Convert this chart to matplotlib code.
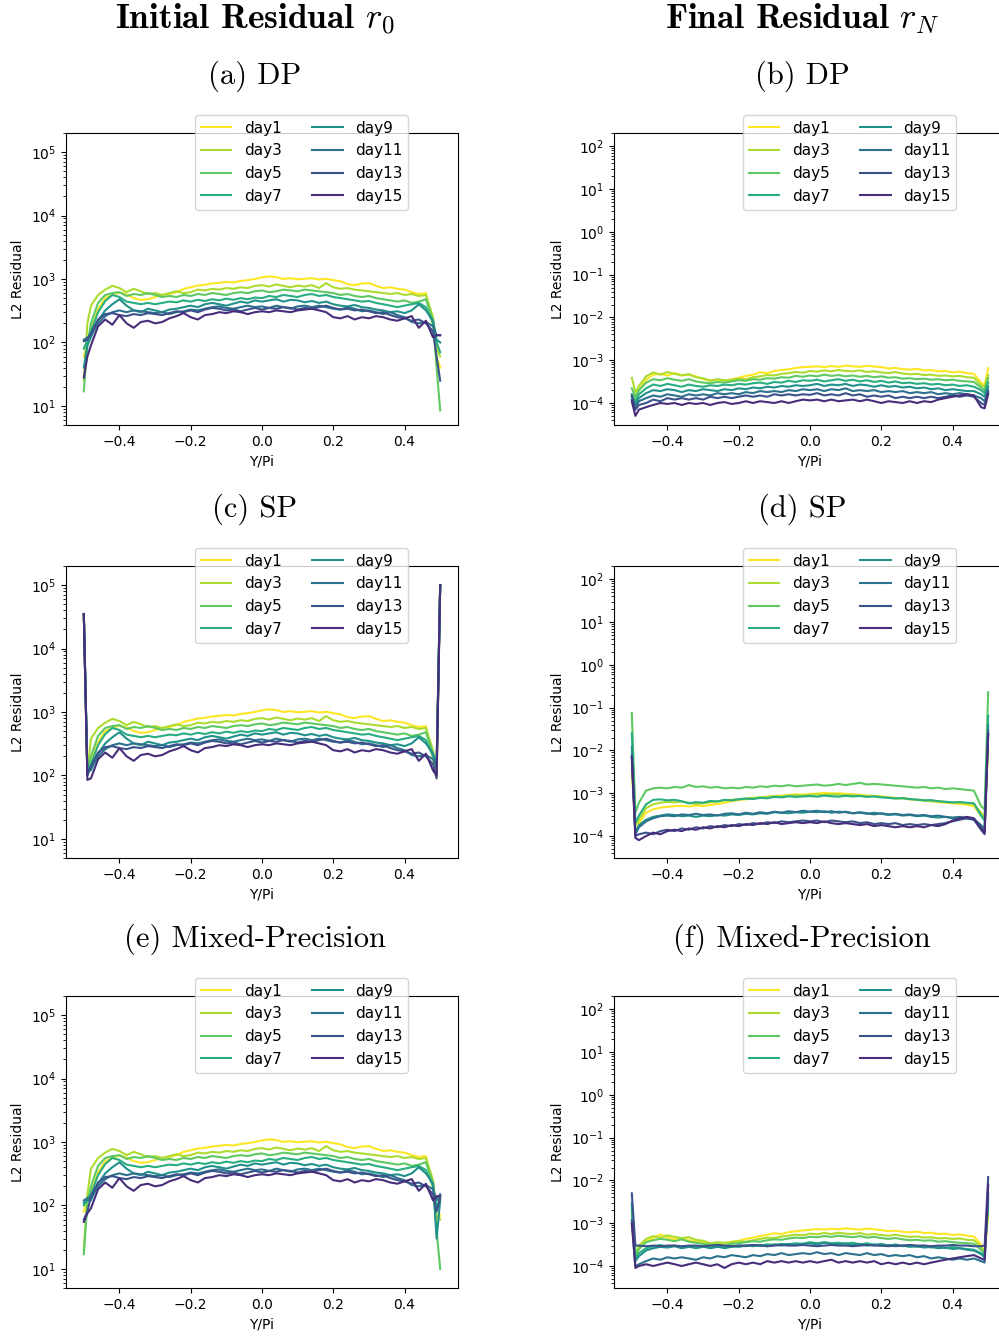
import numpy as np
import matplotlib.pyplot as plt

days = ['day1', 'day3', 'day5', 'day7', 'day9', 'day11', 'day13', 'day15']
colors = [plt.cm.viridis(v) for v in [1.0, 0.875, 0.75, 0.625, 0.5, 0.375, 0.25, 0.125]]

y_pi = [-0.5, -0.49,
        -0.48, -0.46, -0.44, -0.42, -0.4, -0.38, -0.36, -0.34, -0.32, -0.3,
        -0.28, -0.26, -0.24, -0.22, -0.2, -0.18, -0.16, -0.14, -0.12, -0.1,
        -0.08, -0.06, -0.04, -0.02, 0.0, 0.02, 0.04, 0.06, 0.08, 0.1,
        0.12, 0.14, 0.16, 0.18, 0.2, 0.22, 0.24, 0.26, 0.28, 0.3,
        0.32, 0.34, 0.36, 0.38, 0.4, 0.42, 0.44, 0.46, 0.48,
        0.49, 0.5]

r0_ticks = [1e1, 1e2, 1e3, 1e4, 1e5]
rn_ticks = [1e-4, 1e-3, 1e-2, 1e-1, 1e0, 1e1, 1e2]

# initial residual r0, inner part (-0.48 .. 0.48) is the same for DP / SP / MP
r0_day1 = [160, 330, 500, 560, 610, 570, 500, 470, 480, 520,
           560, 580, 620, 700, 740, 790, 810, 850, 870, 900,
           880, 930, 960, 1000, 1060, 1100, 1070, 1000, 1030, 990,
           1010, 1030, 980, 1010, 960, 920, 830, 800, 850, 860,
           780, 720, 740, 700, 680, 620, 580, 600, 180]
r0_day3 = [380, 560, 680, 780, 720, 620, 700, 640, 580, 600,
           560, 600, 640, 600, 620, 680, 660, 700, 680, 720,
           700, 740, 720, 780, 800, 760, 820, 780, 740, 790,
           760, 800, 720, 860, 740, 700, 720, 680, 660, 640,
           620, 600, 580, 600, 560, 580, 540, 560, 250]
r0_day5 = [200, 420, 560, 600, 620, 540, 580, 560, 600, 560,
           520, 540, 520, 560, 540, 580, 560, 600, 580, 560,
           600, 620, 600, 640, 660, 620, 640, 680, 660, 640,
           680, 660, 640, 620, 600, 560, 580, 540, 520, 540,
           500, 480, 460, 440, 460, 420, 440, 480, 220]
r0_day7 = [150, 300, 450, 560, 520, 440, 420, 400, 420, 400,
           420, 440, 430, 460, 440, 470, 450, 480, 460, 490,
           470, 500, 480, 510, 500, 540, 520, 560, 540, 520,
           560, 580, 540, 560, 520, 500, 480, 460, 440, 450,
           420, 400, 380, 360, 380, 400, 420, 360, 200]
r0_day9 = [120, 220, 320, 400, 480, 380, 320, 300, 340, 320,
           300, 330, 340, 360, 380, 360, 400, 420, 400, 380,
           410, 440, 420, 460, 440, 460, 480, 440, 470, 460,
           430, 450, 420, 440, 400, 380, 370, 390, 360, 350,
           330, 320, 300, 310, 290, 320, 400, 320, 220]
r0_day11 = [130, 200, 260, 300, 320, 300, 320, 310, 300, 290,
            300, 280, 300, 310, 330, 320, 340, 360, 370, 350,
            340, 360, 380, 360, 370, 350, 380, 360, 340, 370,
            380, 360, 380, 360, 340, 330, 360, 340, 310, 320,
            300, 280, 300, 270, 250, 210, 200, 210, 180]
r0_day13 = [140, 230, 280, 290, 270, 260, 280, 270, 290, 280,
            270, 290, 310, 300, 320, 300, 330, 350, 340, 320,
            330, 310, 330, 350, 330, 350, 340, 360, 350, 330,
            350, 340, 360, 380, 350, 330, 340, 320, 330, 310,
            290, 300, 270, 250, 240, 220, 230, 200, 150]
r0_day15 = [90, 180, 230, 190, 270, 200, 170, 210, 220, 200,
            210, 240, 260, 290, 250, 230, 270, 280, 300, 290,
            310, 300, 280, 300, 310, 300, 320, 310, 300, 320,
            330, 340, 320, 300, 250, 240, 260, 230, 250, 240,
            260, 250, 230, 220, 240, 260, 170, 220, 120]
r0_mid = [r0_day1, r0_day3, r0_day5, r0_day7, r0_day9, r0_day11, r0_day13, r0_day15]

# r0 boundary values: (Y/Pi=-0.5, -0.49) and (0.49, 0.5), one pair per day
r0_dp_left = [[60, 100], [25, 200], [17, 90], [80, 110], [40, 90], [110, 120], [105, 110], [28, 60]]
r0_dp_right = [[60, 40], [80, 60], [40, 8.5], [100, 70], [110, 100], [130, 130], [60, 25], [130, 130]]
r0_sp_left = [[3.5e4, 100], [3.5e4, 110], [3.5e4, 105], [3.5e4, 100], [3.5e4, 120], [3.5e4, 110], [3.5e4, 100], [3.5e4, 85]]
r0_sp_right = [[90, 1e5], [120, 1e5], [150, 1e5], [160, 1e5], [140, 1e5], [130, 1e5], [90, 1e5], [100, 1e5]]
r0_mp_left = [[80, 120], [20, 150], [17, 110], [100, 130], [110, 120], [120, 130], [60, 80], [55, 75]]
r0_mp_right = [[50, 70], [70, 60], [40, 10], [90, 140], [30, 120], [120, 150], [80, 130], [140, 140]]

# final residual rN, in units of 1e-4
RN_UNIT = 1e-4
rn_dp = [
    [1.0, 1.3,
     2.0, 3.5, 4.6, 4.8, 4.4, 5.0, 4.5, 4.6, 4.2, 3.6,
     3.4, 3.5, 3.3, 3.6, 3.9, 4.3, 4.6, 5.2, 5.0, 5.6,
     5.9, 6.1, 6.6, 6.9, 7.0, 7.2, 6.9, 7.3, 7.0, 7.5,
     7.2, 7.0, 7.4, 7.1, 6.9, 6.4, 6.6, 6.2, 6.0, 6.3,
     5.8, 5.9, 5.5, 5.6, 5.2, 5.4, 5.0, 4.8, 3.0,
     2.6, 6.5],
    [3.9, 1.8,
     2.5, 4.2, 5.2, 4.6, 5.3, 4.8, 4.4, 4.7, 4.0, 3.8,
     3.3, 3.6, 3.4, 3.5, 3.7, 3.6, 4.0, 4.2, 4.5, 4.4,
     4.8, 5.0, 5.3, 5.1, 5.6, 5.4, 5.8, 5.5, 5.9, 5.6,
     5.5, 5.8, 5.3, 5.5, 5.2, 5.0, 5.3, 4.9, 4.7, 4.8,
     4.5, 4.6, 4.3, 4.4, 4.2, 4.3, 4.0, 3.9, 2.6,
     2.4, 4.5],
    [2.2, 1.4,
     2.0, 3.0, 3.6, 3.4, 3.8, 3.5, 3.3, 3.6, 3.2, 3.0,
     2.9, 3.1, 3.0, 3.2, 3.4, 3.3, 3.6, 3.5, 3.8, 3.7,
     4.0, 3.9, 4.3, 4.1, 4.4, 4.2, 4.6, 4.3, 4.5, 4.2,
     4.4, 4.1, 4.3, 4.0, 4.2, 3.9, 4.0, 3.7, 3.8, 3.6,
     3.7, 3.5, 3.6, 3.4, 3.5, 3.3, 3.2, 3.1, 2.3,
     2.0, 3.8],
    [1.6, 1.1,
     1.6, 2.2, 2.7, 2.5, 2.8, 2.6, 2.4, 2.7, 2.5, 2.4,
     2.6, 2.5, 2.7, 2.6, 2.8, 2.7, 2.9, 3.0, 2.8, 3.1,
     3.0, 3.3, 3.1, 3.4, 3.3, 3.5, 3.2, 3.4, 3.6, 3.3,
     3.5, 3.2, 3.4, 3.1, 3.3, 3.0, 3.2, 2.9, 3.0, 2.8,
     2.9, 2.7, 2.8, 2.6, 2.7, 2.5, 2.6, 2.4, 2.0,
     1.7, 3.0],
    [1.4, 0.9,
     1.3, 1.7, 2.0, 1.9, 2.1, 2.0, 1.8, 2.0, 1.9, 2.1,
     2.0, 1.9, 2.1, 2.0, 2.2, 2.1, 2.3, 2.2, 2.4, 2.3,
     2.5, 2.4, 2.6, 2.5, 2.6, 2.8, 2.5, 2.7, 2.6, 2.8,
     2.5, 2.7, 2.6, 2.4, 2.6, 2.4, 2.5, 2.3, 2.4, 2.2,
     2.3, 2.1, 2.2, 2.0, 2.1, 2.0, 1.9, 1.9, 1.6,
     1.4, 2.4],
    [1.2, 0.8,
     1.1, 1.3, 1.5, 1.4, 1.6, 1.5, 1.4, 1.6, 1.5, 1.6,
     1.5, 1.7, 1.6, 1.7, 1.6, 1.8, 1.7, 1.9, 1.8, 1.9,
     1.8, 2.0, 1.9, 2.1, 2.0, 2.1, 1.9, 2.1, 2.0, 2.2,
     1.9, 2.0, 1.9, 2.0, 1.8, 1.9, 1.8, 1.9, 1.7, 1.8,
     1.7, 1.8, 1.6, 1.7, 1.6, 1.7, 1.6, 1.5, 1.3,
     1.1, 2.0],
    [1.5, 0.7,
     0.9, 1.0, 1.2, 1.1, 1.3, 1.2, 1.3, 1.2, 1.3, 1.2,
     1.4, 1.3, 1.4, 1.3, 1.4, 1.5, 1.4, 1.5, 1.4, 1.6,
     1.5, 1.6, 1.5, 1.6, 1.55, 1.7, 1.5, 1.6, 1.5, 1.7,
     1.5, 1.6, 1.4, 1.5, 1.4, 1.5, 1.3, 1.4, 1.3, 1.4,
     1.3, 1.4, 1.3, 1.4, 1.5, 1.4, 1.5, 1.4, 1.0,
     0.9, 1.8],
    [1.1, 0.5,
     0.7, 0.8, 0.9, 1.0, 0.95, 1.0, 0.9, 1.0, 0.95, 1.0,
     0.9, 1.0, 1.05, 0.95, 1.0, 1.1, 1.0, 1.1, 1.05, 1.0,
     1.1, 1.0, 1.1, 1.2, 1.15, 1.2, 1.1, 1.2, 1.1, 1.15,
     1.2, 1.1, 1.2, 1.1, 1.0, 1.1, 1.05, 1.0, 1.1, 1.0,
     1.1, 1.05, 1.2, 1.3, 1.4, 1.5, 1.6, 1.5, 0.8,
     0.75, 1.6],
]
rn_sp = [
    [30, 1.8,
     2.0, 3.5, 4.2, 4.6, 4.8, 5.0, 5.1, 4.9, 5.2, 5.0,
     5.3, 5.6, 6.0, 6.5, 6.9, 7.2, 7.6, 7.9, 8.3, 8.6,
     8.8, 9.1, 9.4, 9.3, 9.6, 9.8, 10.2, 9.9, 10.0, 9.7,
     9.4, 9.2, 8.9, 8.6, 8.4, 8.0, 7.6, 7.8, 7.3, 7.1,
     6.7, 6.5, 6.2, 6.0, 5.8, 5.6, 5.4, 5.0, 3.0,
     2.5, 100],
    [50, 1.8,
     2.4, 4.5, 5.5, 6.0, 6.3, 6.1, 6.4, 6.0, 5.6, 5.8,
     6.1, 6.5, 6.8, 7.0, 7.3, 7.5, 7.8, 8.0, 8.2, 8.5,
     8.4, 8.8, 9.0, 8.9, 9.2, 9.4, 9.1, 9.5, 9.3, 9.0,
     9.2, 8.8, 8.5, 8.7, 8.3, 8.0, 7.8, 7.5, 7.2, 7.0,
     6.8, 6.5, 6.6, 6.2, 6.0, 6.1, 5.8, 5.6, 3.5,
     2.8, 200],
    [750, 3.5,
     6.0, 11.5, 13.0, 13.5, 13.0, 14.0, 13.5, 15.5, 14.0, 14.5,
     13.5, 14.0, 13.0, 13.5, 13.0, 14.0, 13.5, 14.5, 14.0, 15.0,
     14.5, 15.5, 14.5, 15.0, 15.5, 16.0, 15.0, 15.5, 16.5, 15.5,
     16.5, 17.5, 16.0, 16.5, 16.0, 15.5, 15.0, 14.5, 14.0, 13.5,
     14.0, 13.0, 13.5, 12.5, 13.0, 12.5, 12.0, 11.5, 5.0,
     4.2, 2300],
    [250, 2.0,
     3.0, 5.5, 7.0, 7.2, 6.8, 7.0, 6.5, 5.8, 6.2, 6.0,
     6.6, 6.4, 7.0, 6.8, 7.2, 7.5, 7.3, 7.8, 7.6, 8.2,
     8.0, 8.5, 8.2, 8.4, 8.6, 8.3, 8.8, 8.5, 8.3, 8.7,
     8.4, 8.6, 8.2, 8.4, 8.0, 7.8, 7.5, 7.7, 7.3, 7.1,
     6.8, 6.9, 6.5, 6.3, 6.1, 6.2, 6.0, 5.8, 3.0,
     2.3, 650],
    [120, 1.2,
     1.8, 2.4, 2.8, 3.0, 3.2, 3.1, 2.9, 3.0, 2.8, 3.0,
     2.9, 3.1, 3.0, 3.2, 3.1, 3.3, 3.2, 3.4, 3.3, 3.6,
     3.5, 3.4, 3.6, 3.5, 3.7, 3.6, 3.8, 3.5, 3.7, 3.6,
     3.4, 3.5, 3.3, 3.5, 3.3, 3.1, 3.2, 3.0, 3.1, 2.9,
     3.0, 2.8, 2.7, 2.8, 2.6, 2.5, 2.6, 2.4, 1.7,
     1.5, 400],
    [80, 1.1,
     1.6, 2.2, 2.6, 2.9, 3.0, 2.9, 3.2, 3.1, 3.3, 3.1,
     3.2, 3.0, 3.3, 3.4, 3.2, 3.5, 3.3, 3.6, 3.4, 3.7,
     3.5, 3.8, 3.6, 3.9, 3.7, 3.9, 3.6, 3.8, 3.5, 3.7,
     3.4, 3.6, 3.4, 3.2, 3.4, 3.2, 3.3, 3.1, 3.2, 3.0,
     3.1, 2.9, 3.0, 2.8, 2.7, 2.8, 2.6, 2.5, 1.8,
     1.4, 300],
    [70, 1.0,
     1.1, 1.2, 1.1, 1.3, 1.4, 1.3, 1.5, 1.4, 1.6, 1.5,
     1.7, 1.6, 1.8, 1.7, 1.9, 1.8, 2.0, 1.9, 2.1, 2.0,
     2.2, 2.1, 2.2, 2.3, 2.2, 2.3, 2.1, 2.3, 2.2, 2.1,
     2.2, 2.0, 2.1, 1.9, 2.0, 1.9, 2.0, 1.8, 1.9, 1.8,
     1.9, 1.8, 1.9, 2.0, 2.2, 2.4, 2.6, 2.4, 1.4,
     1.1, 250],
    [70, 0.9,
     0.8, 1.0, 1.2, 1.1, 1.3, 1.4, 1.3, 1.5, 1.4, 1.6,
     1.5, 1.7, 1.6, 1.8, 1.7, 1.9, 1.8, 2.0, 1.9, 2.1,
     1.9, 2.0, 2.1, 2.0, 2.1, 2.0, 2.2, 2.0, 1.9, 2.0,
     1.9, 1.8, 1.9, 1.7, 1.8, 1.7, 1.6, 1.7, 1.6, 1.7,
     1.6, 1.8, 1.7, 1.9, 2.3, 2.6, 2.8, 2.6, 1.5,
     1.2, 240],
]
rn_mp = [
    [10, 1.6,
     2.5, 3.8, 4.5, 5.5, 4.6, 4.2, 4.4, 4.0, 3.8, 3.5,
     3.3, 3.5, 3.4, 3.7, 3.9, 4.3, 4.6, 5.0, 5.4, 5.8,
     5.6, 6.2, 6.5, 6.8, 7.0, 7.3, 7.1, 7.4, 7.2, 7.6,
     7.3, 7.1, 7.5, 7.2, 6.9, 6.5, 6.7, 6.3, 6.1, 6.4,
     5.9, 6.0, 5.6, 5.7, 5.3, 5.5, 5.1, 4.9, 3.2,
     2.0, 15],
    [15, 2.0,
     3.0, 4.3, 5.0, 4.6, 5.2, 4.8, 4.5, 4.7, 4.1, 3.9,
     3.4, 3.6, 3.5, 3.6, 3.8, 3.7, 4.0, 4.3, 4.6, 4.5,
     4.9, 5.1, 5.4, 5.2, 5.7, 5.5, 5.9, 5.6, 6.0, 5.7,
     5.6, 5.9, 5.4, 5.6, 5.3, 5.1, 5.4, 5.0, 4.8, 4.9,
     4.6, 4.7, 4.4, 4.5, 4.3, 4.4, 4.1, 4.0, 2.8,
     2.2, 20],
    [20, 1.8,
     2.5, 3.6, 4.0, 4.3, 4.1, 3.8, 4.2, 3.7, 3.5, 3.3,
     3.1, 3.2, 3.0, 3.3, 3.4, 3.6, 3.8, 3.7, 4.0, 4.2,
     4.1, 4.4, 4.6, 4.5, 4.8, 4.7, 5.0, 4.8, 5.1, 4.9,
     4.7, 5.0, 4.6, 4.8, 4.5, 4.3, 4.5, 4.2, 4.0, 4.1,
     3.9, 4.0, 3.7, 3.8, 3.6, 3.5, 3.4, 3.3, 2.4,
     2.0, 25],
    [25, 1.5,
     2.0, 2.6, 2.9, 3.1, 2.8, 3.0, 2.7, 2.9, 2.6, 2.8,
     2.7, 2.9, 2.6, 2.8, 3.0, 2.9, 3.1, 3.0, 3.2, 3.1,
     3.3, 3.2, 3.4, 3.3, 3.6, 3.4, 3.6, 3.4, 3.5, 3.3,
     3.5, 3.2, 3.4, 3.1, 3.3, 3.0, 3.2, 2.9, 3.1, 2.8,
     3.0, 2.7, 2.9, 2.6, 2.8, 2.6, 2.5, 2.4, 2.0,
     1.8, 30],
    [30, 1.3,
     1.7, 2.3, 2.6, 2.8, 2.7, 2.9, 2.6, 2.8, 2.7, 2.9,
     2.6, 2.8, 2.7, 2.9, 2.8, 3.0, 2.9, 3.1, 2.9, 3.2,
     3.0, 3.3, 3.1, 3.3, 3.4, 3.2, 3.5, 3.3, 3.2, 3.4,
     3.1, 3.3, 3.0, 3.2, 3.0, 3.1, 2.9, 3.0, 2.8, 2.9,
     2.7, 2.8, 2.6, 2.7, 2.5, 2.6, 2.4, 2.3, 1.9,
     1.6, 40],
    [12, 1.0,
     1.1, 1.3, 1.5, 1.4, 1.6, 1.5, 1.6, 1.5, 1.4, 1.6,
     1.5, 1.7, 1.6, 1.8, 1.7, 1.6, 1.8, 1.7, 1.9, 1.8,
     2.0, 1.8, 1.9, 2.0, 1.9, 2.1, 1.9, 2.0, 1.8, 2.0,
     1.9, 1.8, 2.0, 1.8, 1.9, 1.7, 1.8, 1.7, 1.8, 1.6,
     1.7, 1.5, 1.6, 1.5, 1.4, 1.5, 1.4, 1.5, 1.3,
     1.2, 50],
    [50, 3.0,
     3.0, 2.9, 3.0, 2.9, 3.0, 3.0, 2.9, 3.0, 3.0, 2.9,
     3.0, 3.1, 3.0, 2.9, 3.0, 3.0, 3.1, 3.0, 2.9, 3.0,
     3.1, 3.0, 3.0, 3.1, 3.0, 2.9, 3.0, 3.1, 3.0, 3.0,
     2.9, 3.0, 3.1, 3.0, 3.0, 2.9, 3.0, 3.0, 3.1, 3.0,
     3.0, 2.9, 3.0, 3.0, 3.1, 3.0, 3.0, 2.9, 2.9,
     3.0, 120],
    [10, 0.9,
     1.0, 1.1, 1.0, 1.1, 1.2, 1.1, 1.0, 1.1, 1.2, 1.1,
     1.0, 1.1, 0.9, 1.1, 1.2, 1.1, 1.2, 1.1, 1.3, 1.2,
     1.3, 1.2, 1.3, 1.2, 1.3, 1.2, 1.3, 1.4, 1.2, 1.3,
     1.2, 1.3, 1.2, 1.3, 1.1, 1.2, 1.1, 1.2, 1.1, 1.2,
     1.1, 1.2, 1.3, 1.4, 1.5, 1.6, 1.7, 1.8, 1.5,
     1.4, 80],
]

W, H = 999, 1336
fig = plt.figure(figsize=(W / 100, H / 100), dpi=100)

def make_ax(x0, top):
    return fig.add_axes([x0 / W, 1 - (top + 292) / H, 392 / W, 292 / H])

def draw(ax, series, ylim, ticks):
    for name, col, vals in zip(days, colors, series):
        ax.plot(y_pi, vals, color=col, lw=1.5, label=name)
    ax.set_yscale('log')
    ax.set_yticks(ticks)
    ax.set_ylim(*ylim)
    ax.set_xlabel('Y/Pi')
    ax.set_ylabel('L2 Residual')
    ax.legend(ncol=2, loc='upper left', bbox_to_anchor=(0.309, 1.089), fontsize=11)

rows = [
    ('(a) DP', '(b) DP', r0_dp_left, r0_dp_right, rn_dp),
    ('(c) SP', '(d) SP', r0_sp_left, r0_sp_right, rn_sp),
    ('(e) Mixed-Precision', '(f) Mixed-Precision', r0_mp_left, r0_mp_right, rn_mp),
]
tops = [133, 566, 996]

for (t_left, t_right, left, right, rn), top in zip(rows, tops):
    ax_l = make_ax(66, top)
    r0 = [l + m + r for l, m, r in zip(left, r0_mid, right)]
    draw(ax_l, r0, (5.0, 2.0e5), r0_ticks)
    ax_r = make_ax(614, top)
    draw(ax_r, [np.array(v) * RN_UNIT for v in rn], (3.06e-5, 2.05e2), rn_ticks)
    fig.text(255 / W, 1 - (top - 57) / H, t_left, ha='center', va='center',
             fontsize=22, fontfamily='cmr10')
    fig.text(802 / W, 1 - (top - 57) / H, t_right, ha='center', va='center',
             fontsize=22, fontfamily='cmr10')

fig.text(255 / W, 1 - 19 / H, r'Initial Residual $r_0$', ha='center', va='center',
         fontsize=25.4, fontfamily='cmb10', math_fontfamily='cm')
fig.text(802 / W, 1 - 19 / H, r'Final Residual $r_N$', ha='center', va='center',
         fontsize=25.4, fontfamily='cmb10', math_fontfamily='cm')

fig.savefig('out.png', dpi=100)
